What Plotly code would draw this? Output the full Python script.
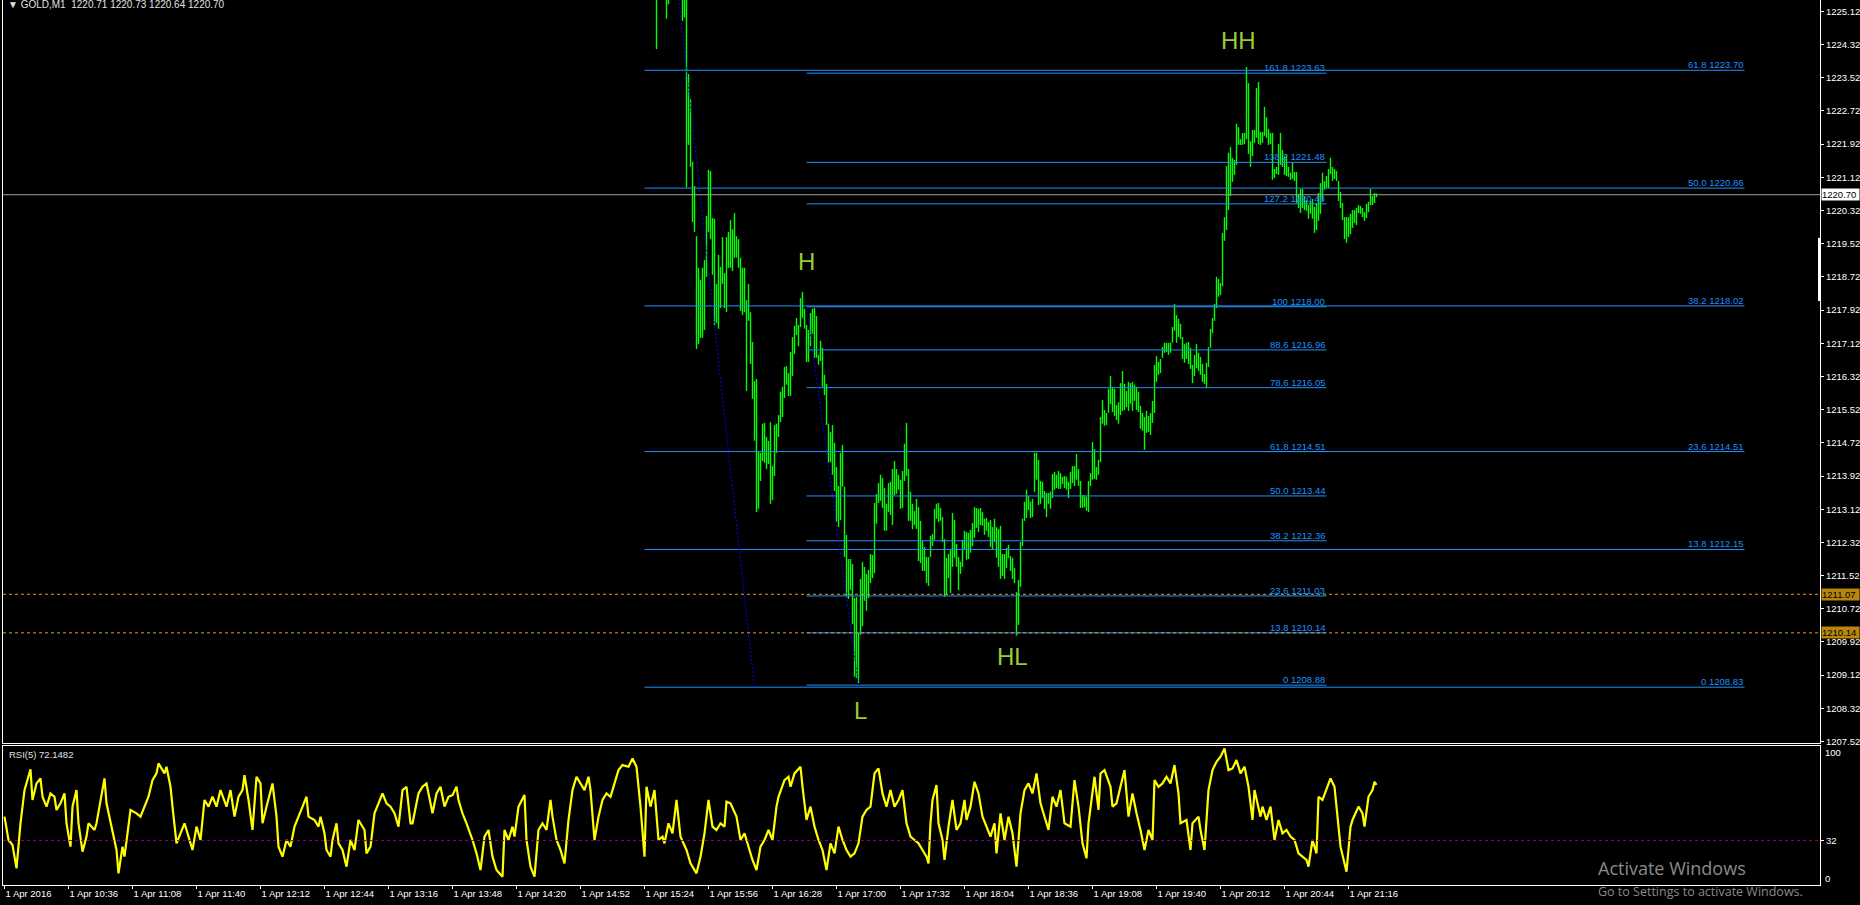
import plotly.graph_objects as go

# ---------------- data (minute index 0 = 1 Apr 2016 10:04, GOLD M1) ----------------
tick_minute = [0, 32, 64, 96, 128, 160, 192, 224, 256, 288, 320, 352, 384, 416, 448,
               480, 512, 544, 576, 608, 640, 672]
tick_label = ["1 Apr 2016", "1 Apr 10:36", "1 Apr 11:08", "1 Apr 11:40", "1 Apr 12:12",
              "1 Apr 12:44", "1 Apr 13:16", "1 Apr 13:48", "1 Apr 14:20", "1 Apr 14:52",
              "1 Apr 15:24", "1 Apr 15:56", "1 Apr 16:28", "1 Apr 17:00", "1 Apr 17:32",
              "1 Apr 18:04", "1 Apr 18:36", "1 Apr 19:08", "1 Apr 19:40", "1 Apr 20:12",
              "1 Apr 20:44", "1 Apr 21:16"]

price_ticks = [1207.52, 1208.32, 1209.12, 1209.92, 1210.72, 1211.52, 1212.32, 1213.12,
               1213.92, 1214.72, 1215.52, 1216.32, 1217.12, 1217.92, 1218.72, 1219.52,
               1220.32, 1221.12, 1221.92, 1222.72, 1223.52, 1224.32, 1225.12]

first_bar_minute = 326  # 15:30
bar_high = [
    1226.00, 1226.30, 1226.40, 1226.20, 1226.10, 1225.90, 1225.70, 1226.00, 1226.20, 1226.30,
    1226.10, 1226.00, 1225.90, 1225.80, 1226.00, 1225.80, 1223.61, 1223.01, 1221.49, 1220.91,
    1219.70, 1218.94, 1218.65, 1218.94, 1219.13, 1220.19, 1221.30, 1221.27, 1220.14, 1220.12,
    1218.55, 1219.25, 1218.96, 1219.68, 1218.81, 1219.68, 1219.80, 1220.09, 1219.87, 1220.26,
    1219.70, 1219.63, 1219.18, 1218.94, 1218.94, 1218.16, 1218.55, 1217.87, 1217.15, 1216.21,
    1216.26, 1214.50, 1214.48, 1215.18, 1215.20, 1214.86, 1214.77, 1215.22, 1214.16, 1215.15,
    1215.18, 1215.39, 1215.95, 1216.07, 1216.55, 1216.57, 1216.40, 1216.91, 1217.27, 1217.54,
    1217.73, 1217.56, 1218.21, 1218.36, 1217.95, 1217.56, 1217.44, 1217.85, 1217.95, 1217.97,
    1217.78, 1216.84, 1217.18, 1217.01, 1216.36, 1216.14, 1215.18, 1214.98, 1215.15, 1214.72,
    1214.14, 1213.68, 1214.48, 1214.67, 1213.66, 1212.50, 1211.92, 1211.92, 1211.80, 1210.98,
    1211.00, 1210.14, 1211.44, 1211.85, 1211.73, 1211.56, 1211.66, 1212.04, 1212.02, 1213.27,
    1213.49, 1213.75, 1213.95, 1213.87, 1213.63, 1213.25, 1213.75, 1213.78, 1214.09, 1214.28,
    1214.09, 1213.95, 1213.83, 1214.04, 1214.70, 1215.20, 1214.09, 1213.54, 1213.25, 1213.08,
    1213.37, 1213.17, 1212.84, 1212.36, 1212.21, 1211.97, 1211.97, 1212.48, 1212.52, 1213.13,
    1213.25, 1213.27, 1213.15, 1212.93, 1212.40, 1211.95, 1212.04, 1212.14, 1213.03, 1212.86,
    1212.28, 1211.97, 1211.85, 1212.38, 1212.60, 1212.57, 1212.55, 1212.62, 1212.79, 1213.17,
    1213.15, 1213.13, 1213.15, 1213.05, 1212.89, 1212.91, 1212.81, 1212.86, 1212.69, 1212.89,
    1212.69, 1212.64, 1212.72, 1212.04, 1212.04, 1212.19, 1212.26, 1211.99, 1211.95, 1211.70,
    1211.12, 1211.42, 1212.33, 1212.89, 1213.30, 1213.59, 1213.44, 1213.30, 1213.37, 1214.48,
    1214.48, 1214.31, 1213.80, 1213.78, 1213.56, 1213.51, 1213.51, 1213.54, 1213.97, 1214.02,
    1213.95, 1214.04, 1213.99, 1213.90, 1213.92, 1213.90, 1213.78, 1214.02, 1214.16, 1214.16,
    1214.45, 1214.09, 1213.80, 1213.46, 1213.46, 1213.42, 1213.80, 1213.99, 1214.74, 1214.57,
    1214.14, 1214.31, 1215.34, 1215.75, 1215.51, 1215.44, 1216.02, 1216.33, 1216.07, 1216.02,
    1215.63, 1215.70, 1216.16, 1216.45, 1216.14, 1215.97, 1216.19, 1216.16, 1216.19, 1216.12,
    1216.07, 1215.95, 1215.61, 1215.44, 1215.34, 1215.49, 1215.37, 1215.44, 1215.73, 1216.60,
    1216.81, 1216.67, 1216.74, 1217.03, 1217.13, 1217.13, 1217.13, 1217.13, 1217.51, 1218.07,
    1217.80, 1217.71, 1217.59, 1217.27, 1217.10, 1217.13, 1217.15, 1217.01, 1216.60, 1216.84,
    1217.10, 1216.89, 1216.79, 1216.62, 1216.38, 1216.65, 1217.03, 1217.47, 1217.73, 1218.07,
    1218.72, 1218.67, 1218.57, 1219.78, 1220.16, 1221.39, 1221.71, 1221.85, 1221.59, 1221.54,
    1222.41, 1222.33, 1222.04, 1222.19, 1222.19, 1223.78, 1223.39, 1221.99, 1222.26, 1222.26,
    1223.27, 1223.42, 1222.21, 1222.21, 1222.82, 1222.57, 1222.29, 1222.19, 1222.19, 1221.32,
    1221.37, 1221.92, 1222.19, 1221.78, 1221.63, 1221.68, 1221.37, 1221.23, 1221.49, 1221.25,
    1221.25, 1220.72, 1220.84, 1220.84, 1220.67, 1220.57, 1220.45, 1220.55, 1220.60, 1220.41,
    1220.50, 1220.74, 1220.98, 1221.23, 1221.03, 1221.15, 1221.32, 1221.59, 1221.37, 1221.32,
    1221.27, 1221.03, 1220.77, 1220.50, 1220.16, 1220.16, 1220.16, 1220.24, 1220.33, 1220.33,
    1220.38, 1220.45, 1220.43, 1220.38, 1220.28, 1220.48, 1220.53, 1220.84, 1220.67, 1220.74,
    1220.73,
]
bar_low = [
    1224.21, 1225.60, 1225.70, 1225.55, 1225.50, 1224.94, 1225.29, 1225.50, 1225.60, 1225.70,
    1225.60, 1225.55, 1225.45, 1224.89, 1224.97, 1220.87, 1221.90, 1221.37, 1220.04, 1219.80,
    1216.98, 1217.10, 1217.25, 1217.25, 1217.44, 1218.72, 1219.80, 1219.63, 1218.77, 1217.56,
    1217.61, 1217.47, 1217.97, 1218.55, 1217.97, 1217.87, 1218.94, 1218.94, 1218.86, 1219.18,
    1219.18, 1218.94, 1217.90, 1217.80, 1217.87, 1215.97, 1217.66, 1216.62, 1215.78, 1214.77,
    1213.05, 1213.13, 1213.80, 1214.28, 1214.24, 1214.09, 1214.21, 1213.25, 1213.34, 1213.92,
    1214.48, 1214.86, 1215.22, 1215.34, 1215.80, 1216.12, 1215.85, 1215.85, 1216.33, 1216.86,
    1217.32, 1217.05, 1217.51, 1217.73, 1217.47, 1216.67, 1216.67, 1217.05, 1217.35, 1216.77,
    1216.77, 1216.60, 1216.69, 1216.07, 1215.87, 1215.15, 1214.24, 1214.26, 1213.95, 1213.56,
    1212.81, 1212.69, 1212.86, 1213.66, 1211.97, 1210.98, 1210.96, 1211.17, 1210.35, 1209.08,
    1209.05, 1208.93, 1210.09, 1210.30, 1210.91, 1210.67, 1210.98, 1211.34, 1211.46, 1211.58,
    1212.77, 1213.27, 1213.32, 1213.15, 1212.60, 1212.60, 1213.05, 1212.98, 1212.74, 1213.46,
    1213.49, 1213.59, 1213.13, 1213.15, 1213.80, 1213.92, 1212.84, 1212.84, 1212.64, 1212.74,
    1212.64, 1211.87, 1211.82, 1211.63, 1211.63, 1211.34, 1211.27, 1211.97, 1212.23, 1212.38,
    1212.89, 1212.81, 1212.84, 1212.33, 1211.01, 1211.05, 1211.46, 1211.10, 1211.73, 1211.95,
    1211.73, 1211.17, 1211.56, 1211.73, 1212.16, 1211.90, 1211.92, 1212.07, 1212.23, 1212.43,
    1212.67, 1212.57, 1212.74, 1212.72, 1212.50, 1212.60, 1212.45, 1212.21, 1212.16, 1212.33,
    1211.95, 1211.73, 1211.44, 1211.51, 1211.44, 1211.70, 1211.95, 1211.63, 1211.44, 1211.34,
    1210.07, 1210.33, 1211.25, 1212.23, 1212.84, 1212.91, 1213.10, 1212.91, 1212.93, 1213.54,
    1213.83, 1213.22, 1213.25, 1213.39, 1213.13, 1212.93, 1213.25, 1213.13, 1213.39, 1213.59,
    1213.63, 1213.61, 1213.61, 1213.73, 1213.63, 1213.59, 1213.39, 1213.61, 1213.75, 1213.68,
    1213.83, 1213.68, 1213.15, 1213.15, 1213.17, 1213.08, 1213.05, 1213.68, 1213.83, 1213.85,
    1213.83, 1213.95, 1214.26, 1215.18, 1215.13, 1215.15, 1215.44, 1215.66, 1215.46, 1215.37,
    1215.27, 1215.18, 1215.39, 1215.49, 1215.51, 1215.58, 1215.49, 1215.66, 1215.49, 1215.73,
    1215.51, 1215.46, 1215.06, 1215.01, 1214.55, 1214.96, 1214.98, 1214.91, 1215.20, 1215.44,
    1216.19, 1216.36, 1216.40, 1216.77, 1216.89, 1216.91, 1216.84, 1216.89, 1217.13, 1217.42,
    1217.13, 1217.27, 1217.22, 1216.74, 1216.65, 1216.74, 1216.62, 1216.50, 1216.16, 1216.33,
    1216.52, 1216.45, 1216.36, 1216.19, 1216.14, 1216.04, 1216.55, 1217.01, 1217.37, 1217.66,
    1217.97, 1218.24, 1218.28, 1218.50, 1219.59, 1219.85, 1220.33, 1220.67, 1221.01, 1221.18,
    1221.42, 1221.90, 1221.90, 1221.90, 1221.92, 1222.04, 1221.68, 1221.37, 1221.63, 1221.95,
    1222.07, 1221.92, 1221.90, 1221.95, 1222.12, 1222.07, 1221.90, 1221.92, 1221.06, 1221.10,
    1221.20, 1221.18, 1221.42, 1221.37, 1221.18, 1221.15, 1221.13, 1221.06, 1221.08, 1221.03,
    1220.50, 1220.38, 1220.26, 1220.38, 1220.33, 1220.31, 1220.12, 1220.24, 1220.12, 1219.78,
    1219.85, 1220.07, 1220.24, 1220.55, 1220.82, 1220.86, 1220.86, 1221.20, 1221.03, 1221.08,
    1221.03, 1220.55, 1220.38, 1220.09, 1219.63, 1219.54, 1219.68, 1219.75, 1219.90, 1220.02,
    1219.97, 1220.26, 1220.24, 1220.16, 1220.07, 1220.14, 1220.28, 1220.45, 1220.45, 1220.50,
    1220.64,
]

# RSI(5): (minute, value)
rsi_points = [
    (0, 49.2), (2, 32.4), (4, 28.8), (6, 12.0), (8, 44.4), (10, 68.3), (13, 83.2), (14, 61.2),
    (16, 73.1), (18, 76.7), (19, 63.5), (21, 56.4), (23, 65.9), (25, 63.5), (26, 54.0), (28, 58.8),
    (30, 65.9), (31, 44.4), (33, 27.6), (34, 56.4), (36, 68.3), (37, 44.4), (39, 24.0), (41, 34.8),
    (42, 44.4), (45, 39.6), (46, 44.4), (48, 61.2), (50, 76.7), (51, 58.8), (54, 39.6), (56, 25.2),
    (57, 8.4), (59, 27.6), (60, 20.4), (62, 42.0), (63, 54.0), (66, 51.6), (68, 49.2), (70, 56.4),
    (72, 63.5), (74, 75.5), (76, 80.3), (77, 87.5), (80, 80.3), (81, 85.1), (83, 70.7), (84, 56.4),
    (86, 30.0), (88, 37.2), (90, 44.4), (92, 34.8), (94, 25.2), (96, 42.0), (98, 32.4), (100, 61.2),
    (102, 56.4), (104, 63.5), (106, 56.4), (108, 68.3), (111, 56.4), (113, 68.3), (115, 49.2),
    (117, 63.5), (119, 68.3), (120, 79.1), (122, 61.2), (124, 39.6), (126, 77.9), (128, 73.1),
    (129, 44.4), (131, 56.4), (133, 68.3), (134, 73.1), (136, 49.2), (137, 27.6), (139, 20.4),
    (141, 32.4), (143, 27.6), (145, 42.0), (147, 49.2), (149, 56.4), (151, 63.5), (152, 49.2),
    (155, 46.8), (157, 42.0), (158, 49.2), (160, 37.2), (161, 25.2), (163, 20.4), (164, 32.4),
    (166, 44.4), (167, 30.0), (169, 25.2), (171, 13.2), (173, 32.4), (175, 25.2), (177, 46.8),
    (180, 39.6), (181, 22.8), (183, 27.6), (185, 51.6), (187, 58.8), (189, 65.9), (191, 58.8),
    (193, 56.4), (195, 51.6), (197, 42.0), (199, 68.3), (201, 70.7), (203, 44.4), (204, 44.4),
    (206, 58.8), (207, 65.9), (209, 70.7), (211, 73.1), (212, 65.9), (214, 51.6), (216, 65.9),
    (218, 70.7), (220, 56.4), (222, 63.5), (224, 64.7), (226, 70.7), (227, 61.2), (229, 51.6),
    (231, 44.4), (234, 32.4), (236, 22.8), (238, 10.8), (240, 34.8), (242, 39.6), (244, 20.4),
    (246, 10.8), (249, 6.0), (250, 39.6), (252, 32.4), (254, 42.0), (255, 34.8), (257, 56.4),
    (260, 64.7), (261, 32.4), (263, 13.2), (265, 6.0), (267, 39.6), (269, 44.4), (271, 39.6),
    (273, 61.2), (274, 49.2), (276, 32.4), (278, 25.2), (280, 15.6), (282, 46.8), (284, 68.3),
    (286, 77.9), (288, 73.1), (290, 68.3), (292, 77.9), (293, 68.3), (295, 32.4), (297, 49.2),
    (299, 61.2), (301, 65.9), (303, 63.5), (305, 73.1), (307, 82.7), (309, 86.3), (312, 85.1),
    (314, 91.1), (316, 85.1), (318, 56.4), (320, 20.4), (321, 70.7), (323, 56.4), (325, 68.3),
    (327, 32.4), (329, 34.8), (330, 30.0), (332, 44.4), (334, 37.2), (336, 61.2), (338, 34.8),
    (341, 25.2), (343, 15.6), (346, 8.4), (348, 20.4), (350, 37.2), (352, 61.2), (354, 42.0),
    (356, 39.6), (358, 44.4), (360, 42.0), (361, 60.0), (363, 58.8), (366, 49.2), (368, 32.4),
    (370, 37.2), (372, 27.6), (374, 18.0), (376, 10.8), (378, 27.6), (380, 32.4), (382, 39.6),
    (384, 32.4), (386, 56.4), (387, 63.5), (390, 75.5), (392, 77.9), (393, 70.7), (395, 80.3),
    (398, 85.1), (399, 70.7), (401, 46.8), (403, 56.4), (405, 42.0), (407, 32.4), (409, 25.2),
    (411, 10.8), (413, 30.0), (415, 22.8), (417, 42.0), (419, 32.4), (421, 25.2), (423, 20.4),
    (425, 22.8), (427, 30.0), (429, 49.2), (431, 54.0), (433, 56.4), (435, 80.3), (437, 83.9),
    (439, 65.9), (441, 56.4), (443, 68.3), (445, 56.4), (447, 61.2), (449, 68.3), (451, 44.4),
    (453, 34.8), (455, 32.4), (457, 30.0), (459, 25.2), (461, 20.4), (462, 15.6), (463, 44.4),
    (464, 61.2), (466, 71.9), (467, 44.4), (469, 32.4), (470, 18.0), (472, 42.0), (474, 61.2),
    (476, 39.6), (478, 44.4), (480, 61.2), (481, 46.8), (483, 56.4), (485, 74.3), (487, 65.9),
    (489, 49.2), (491, 42.0), (493, 34.8), (495, 44.4), (496, 22.8), (498, 51.6), (500, 32.4),
    (502, 49.2), (504, 37.2), (506, 13.2), (508, 51.6), (510, 68.3), (512, 73.1), (514, 65.9),
    (516, 80.3), (518, 58.8), (520, 49.2), (522, 39.6), (524, 63.5), (526, 56.4), (528, 68.3),
    (530, 44.4), (533, 42.0), (535, 75.5), (537, 56.4), (539, 30.0), (541, 19.2), (542, 44.4),
    (545, 77.9), (547, 54.0), (548, 80.3), (550, 82.7), (553, 70.7), (554, 56.4), (556, 58.8),
    (558, 70.7), (560, 82.7), (562, 49.2), (564, 65.9), (566, 51.6), (568, 39.6), (570, 25.2),
    (572, 39.6), (574, 32.4), (575, 75.5), (577, 70.7), (579, 73.1), (581, 77.9), (583, 73.1),
    (585, 86.3), (587, 65.9), (588, 44.4), (591, 46.8), (593, 25.2), (594, 44.4), (597, 49.2),
    (598, 39.6), (600, 25.2), (602, 68.3), (604, 82.7), (606, 88.7), (608, 92.3), (610, 98.3),
    (612, 82.7), (614, 83.9), (616, 89.9), (618, 80.3), (620, 85.1), (622, 70.7), (624, 46.8),
    (625, 68.3), (628, 49.2), (629, 56.4), (631, 46.8), (633, 56.4), (635, 32.4), (637, 46.8),
    (639, 37.2), (641, 39.6), (643, 34.8), (645, 32.4), (647, 22.8), (649, 20.4), (651, 18.0),
    (652, 13.2), (654, 32.4), (656, 22.8), (657, 63.5), (659, 61.2), (661, 68.3), (663, 76.7),
    (665, 70.7), (667, 44.4), (668, 27.6), (671, 9.6), (673, 42.0), (674, 46.8), (677, 56.4),
    (679, 51.6), (680, 42.0), (682, 63.5), (684, 68.3), (685, 74.3), (686, 72.1),
]
rsi_level = 32

# Fibonacci retracement A (anchors at 15:24 and 16:19)
fibA_anchor_minute = [320, 375]
fibA_anchor_price = [1232.89, 1208.83]
fibA_end_minute = 870
fibA_level = ["61.8", "50.0", "38.2", "23.6", "13.8", "0"]
fibA_price = [1223.70, 1220.86, 1218.02, 1214.51, 1212.15, 1208.83]

# Fibonacci B (H -> L, with extensions)
fibB_anchor_minute = [401, 427]
fibB_anchor_price = [1218.00, 1208.88]
fibB_end_minute = 661
fibB_level = ["161.8", "138.2", "127.2", "100", "88.6", "78.6", "61.8", "50.0", "38.2",
              "23.6", "13.8", "0"]
fibB_price = [1223.63, 1221.48, 1220.48, 1218.00, 1216.96, 1216.05, 1214.51, 1213.44,
              1212.36, 1211.03, 1210.14, 1208.88]

# swing labels
swing_text = ["H", "L", "HL", "HH"]
swing_minute = [401, 428, 504, 617]
swing_price = [1219.10, 1208.26, 1209.56, 1224.41]

last_price = 1220.70
alert_prices = [1211.07, 1210.14]
header = "▼ GOLD,M1  1220.71 1220.73 1220.64 1220.70"
rsi_title = "RSI(5) 72.1482"

# ---------------- figure ----------------
BLUE = "#1e90ff"
X_RANGE = [-0.75, 907.75]
Y_RANGE = [1207.486, 1225.394]
MAIN_DOMAIN = [0.1605, 1.0]
RSI_DOMAIN = [0.0, 0.157]
FONT = "Liberation Sans, Arial, sans-serif"

fig = go.Figure()

bx, by = [], []
for k, (h, l) in enumerate(zip(bar_high, bar_low)):
    t = first_bar_minute + k
    bx += [t, t, None]
    by += [l, h, None]
fig.add_trace(go.Scatter(x=bx, y=by, mode="lines", line=dict(color="#00ff00", width=1.4),
                         xaxis="x", yaxis="y", hoverinfo="skip"))

rsi_minute = [p[0] for p in rsi_points]
rsi_value = [p[1] for p in rsi_points]
fig.add_trace(go.Scatter(x=rsi_minute, y=rsi_value, mode="lines",
                         line=dict(color="#ffff00", width=2.2), xaxis="x2", yaxis="y2",
                         hoverinfo="skip"))

shapes = []
for p in fibA_price:
    shapes.append(dict(type="line", xref="x", yref="y", x0=fibA_anchor_minute[0],
                       x1=fibA_end_minute, y0=p, y1=p, line=dict(color=BLUE, width=1)))
for p in fibB_price:
    shapes.append(dict(type="line", xref="x", yref="y", x0=fibB_anchor_minute[0],
                       x1=fibB_end_minute, y0=p, y1=p, line=dict(color=BLUE, width=1)))
for am, ap in ((fibA_anchor_minute, fibA_anchor_price), (fibB_anchor_minute, fibB_anchor_price)):
    shapes.append(dict(type="line", xref="x", yref="y", x0=am[0], x1=am[1], y0=ap[0], y1=ap[1],
                       line=dict(color="#0000ff", width=1, dash="2px,2px")))
shapes.append(dict(type="line", xref="paper", yref="y", x0=0, x1=1, y0=last_price,
                   y1=last_price, line=dict(color="#a0a0a0", width=1)))
for p in alert_prices:
    shapes.append(dict(type="line", xref="paper", yref="y", x0=0, x1=1, y0=p, y1=p,
                       line=dict(color="#daa520", width=1, dash="3px,3px")))
shapes.append(dict(type="line", xref="paper", yref="y2", x0=0, x1=1, y0=rsi_level,
                   y1=rsi_level, line=dict(color="#800080", width=1, dash="3px,3px")))
shapes.append(dict(type="rect", xref="paper", yref="y", x0=1 - 2 / 1817, x1=1 + 1 / 1817,
                   y0=1218.14, y1=1219.66, fillcolor="white", line=dict(width=0)))

ann = []
for lv, p in zip(fibA_level, fibA_price):
    ann.append(dict(x=fibA_end_minute - 0.5, y=p, xref="x", yref="y", text=f"{lv} {p:.2f}",
                    showarrow=False, xanchor="right", yanchor="bottom", borderpad=0, yshift=-1,
                    font=dict(family=FONT, size=9.5, color=BLUE)))
for lv, p in zip(fibB_level, fibB_price):
    ann.append(dict(x=fibB_end_minute - 0.5, y=p, xref="x", yref="y", text=f"{lv} {p:.2f}",
                    showarrow=False, xanchor="right", yanchor="bottom", borderpad=0, yshift=-1,
                    font=dict(family=FONT, size=9.5, color=BLUE)))
for t, m, p in zip(swing_text, swing_minute, swing_price):
    ann.append(dict(x=m, y=p, xref="x", yref="y", text=t, showarrow=False,
                    xanchor="center", yanchor="middle",
                    font=dict(family=FONT, size=24, color="#9acd32")))
ann.append(dict(x=1, y=last_price, xref="paper", yref="y", text=f"{last_price:.2f}",
                showarrow=False, xanchor="left", yanchor="middle", xshift=1, width=37,
                height=11, align="left", borderpad=0, bgcolor="white",
                font=dict(family=FONT, size=9.5, color="black")))
for p in alert_prices:
    ann.append(dict(x=1, y=p, xref="paper", yref="y", text=f"{p:.2f}", showarrow=False,
                    xanchor="left", yanchor="middle", xshift=1, width=37, height=11,
                    align="left", borderpad=0, bgcolor="#b8860b",
                    font=dict(family=FONT, size=9.5, color="black")))
ann.append(dict(x=1, y=100, xref="paper", yref="y2", text="100", showarrow=False,
                xanchor="left", yanchor="top", xshift=4, borderpad=0,
                font=dict(family=FONT, size=9.5, color="white")))
ann.append(dict(x=1, y=0, xref="paper", yref="y2", text="0", showarrow=False,
                xanchor="left", yanchor="bottom", xshift=4, borderpad=0,
                font=dict(family=FONT, size=9.5, color="white")))
ann.append(dict(x=0, y=1, xref="paper", yref="paper", text=header, showarrow=False,
                xanchor="left", yanchor="top", xshift=4, yshift=2, borderpad=0,
                font=dict(family=FONT, size=10, color="#e0e0e0")))
ann.append(dict(x=0, y=RSI_DOMAIN[1], xref="paper", yref="paper", text=rsi_title,
                showarrow=False, xanchor="left", yanchor="top", xshift=5, yshift=-2,
                borderpad=0, font=dict(family=FONT, size=9.5, color="#e0e0e0")))
ann.append(dict(x=0.8773, y=0.0192, xref="paper", yref="paper", text="Activate Windows",
                showarrow=False, xanchor="left", yanchor="middle", borderpad=0,
                font=dict(family="Open Sans, Noto Sans, sans-serif", size=18, color="#8a8a8a")))
ann.append(dict(x=0.8773, y=-0.0079, xref="paper", yref="paper",
                text="Go to Settings to activate Windows.", showarrow=False,
                xanchor="left", yanchor="middle", borderpad=0,
                font=dict(family="Open Sans, Noto Sans, sans-serif", size=12.5, color="#8a8a8a")))

axis_common = dict(showgrid=False, zeroline=False, showline=True, linecolor="white",
                   linewidth=1, tickcolor="white", ticklen=3,
                   tickfont=dict(family=FONT, size=9.5, color="white"))

fig.update_layout(
    width=1860, height=905,
    margin=dict(l=3, r=40, t=0, b=20, pad=0),
    paper_bgcolor="black", plot_bgcolor="black", showlegend=False,
    font=dict(family=FONT, size=9.5, color="white"),
    xaxis=dict(domain=[0, 1], range=X_RANGE, anchor="y", showticklabels=False, ticks="",
               **axis_common),
    yaxis=dict(domain=MAIN_DOMAIN, range=Y_RANGE, anchor="x", side="right", mirror=True,
               ticks="outside", tickvals=price_ticks,
               ticktext=[f"{v:.2f}" for v in price_ticks], **axis_common),
    xaxis2=dict(domain=[0, 1], range=X_RANGE, anchor="y2", mirror=True, ticks="outside",
                tickvals=tick_minute, ticktext=tick_label, ticklabelposition="outside right",
                **axis_common),
    yaxis2=dict(domain=RSI_DOMAIN, range=[0, 100], anchor="x2", side="right", mirror=True,
                ticks="outside", tickvals=[rsi_level], ticktext=[str(rsi_level)],
                **axis_common),
    shapes=shapes,
    annotations=ann,
    hovermode=False,
)

fig.write_html("out.html", config={"displayModeBar": False},
               post_script="document.body.style.margin='0';document.body.style.background='black';")
